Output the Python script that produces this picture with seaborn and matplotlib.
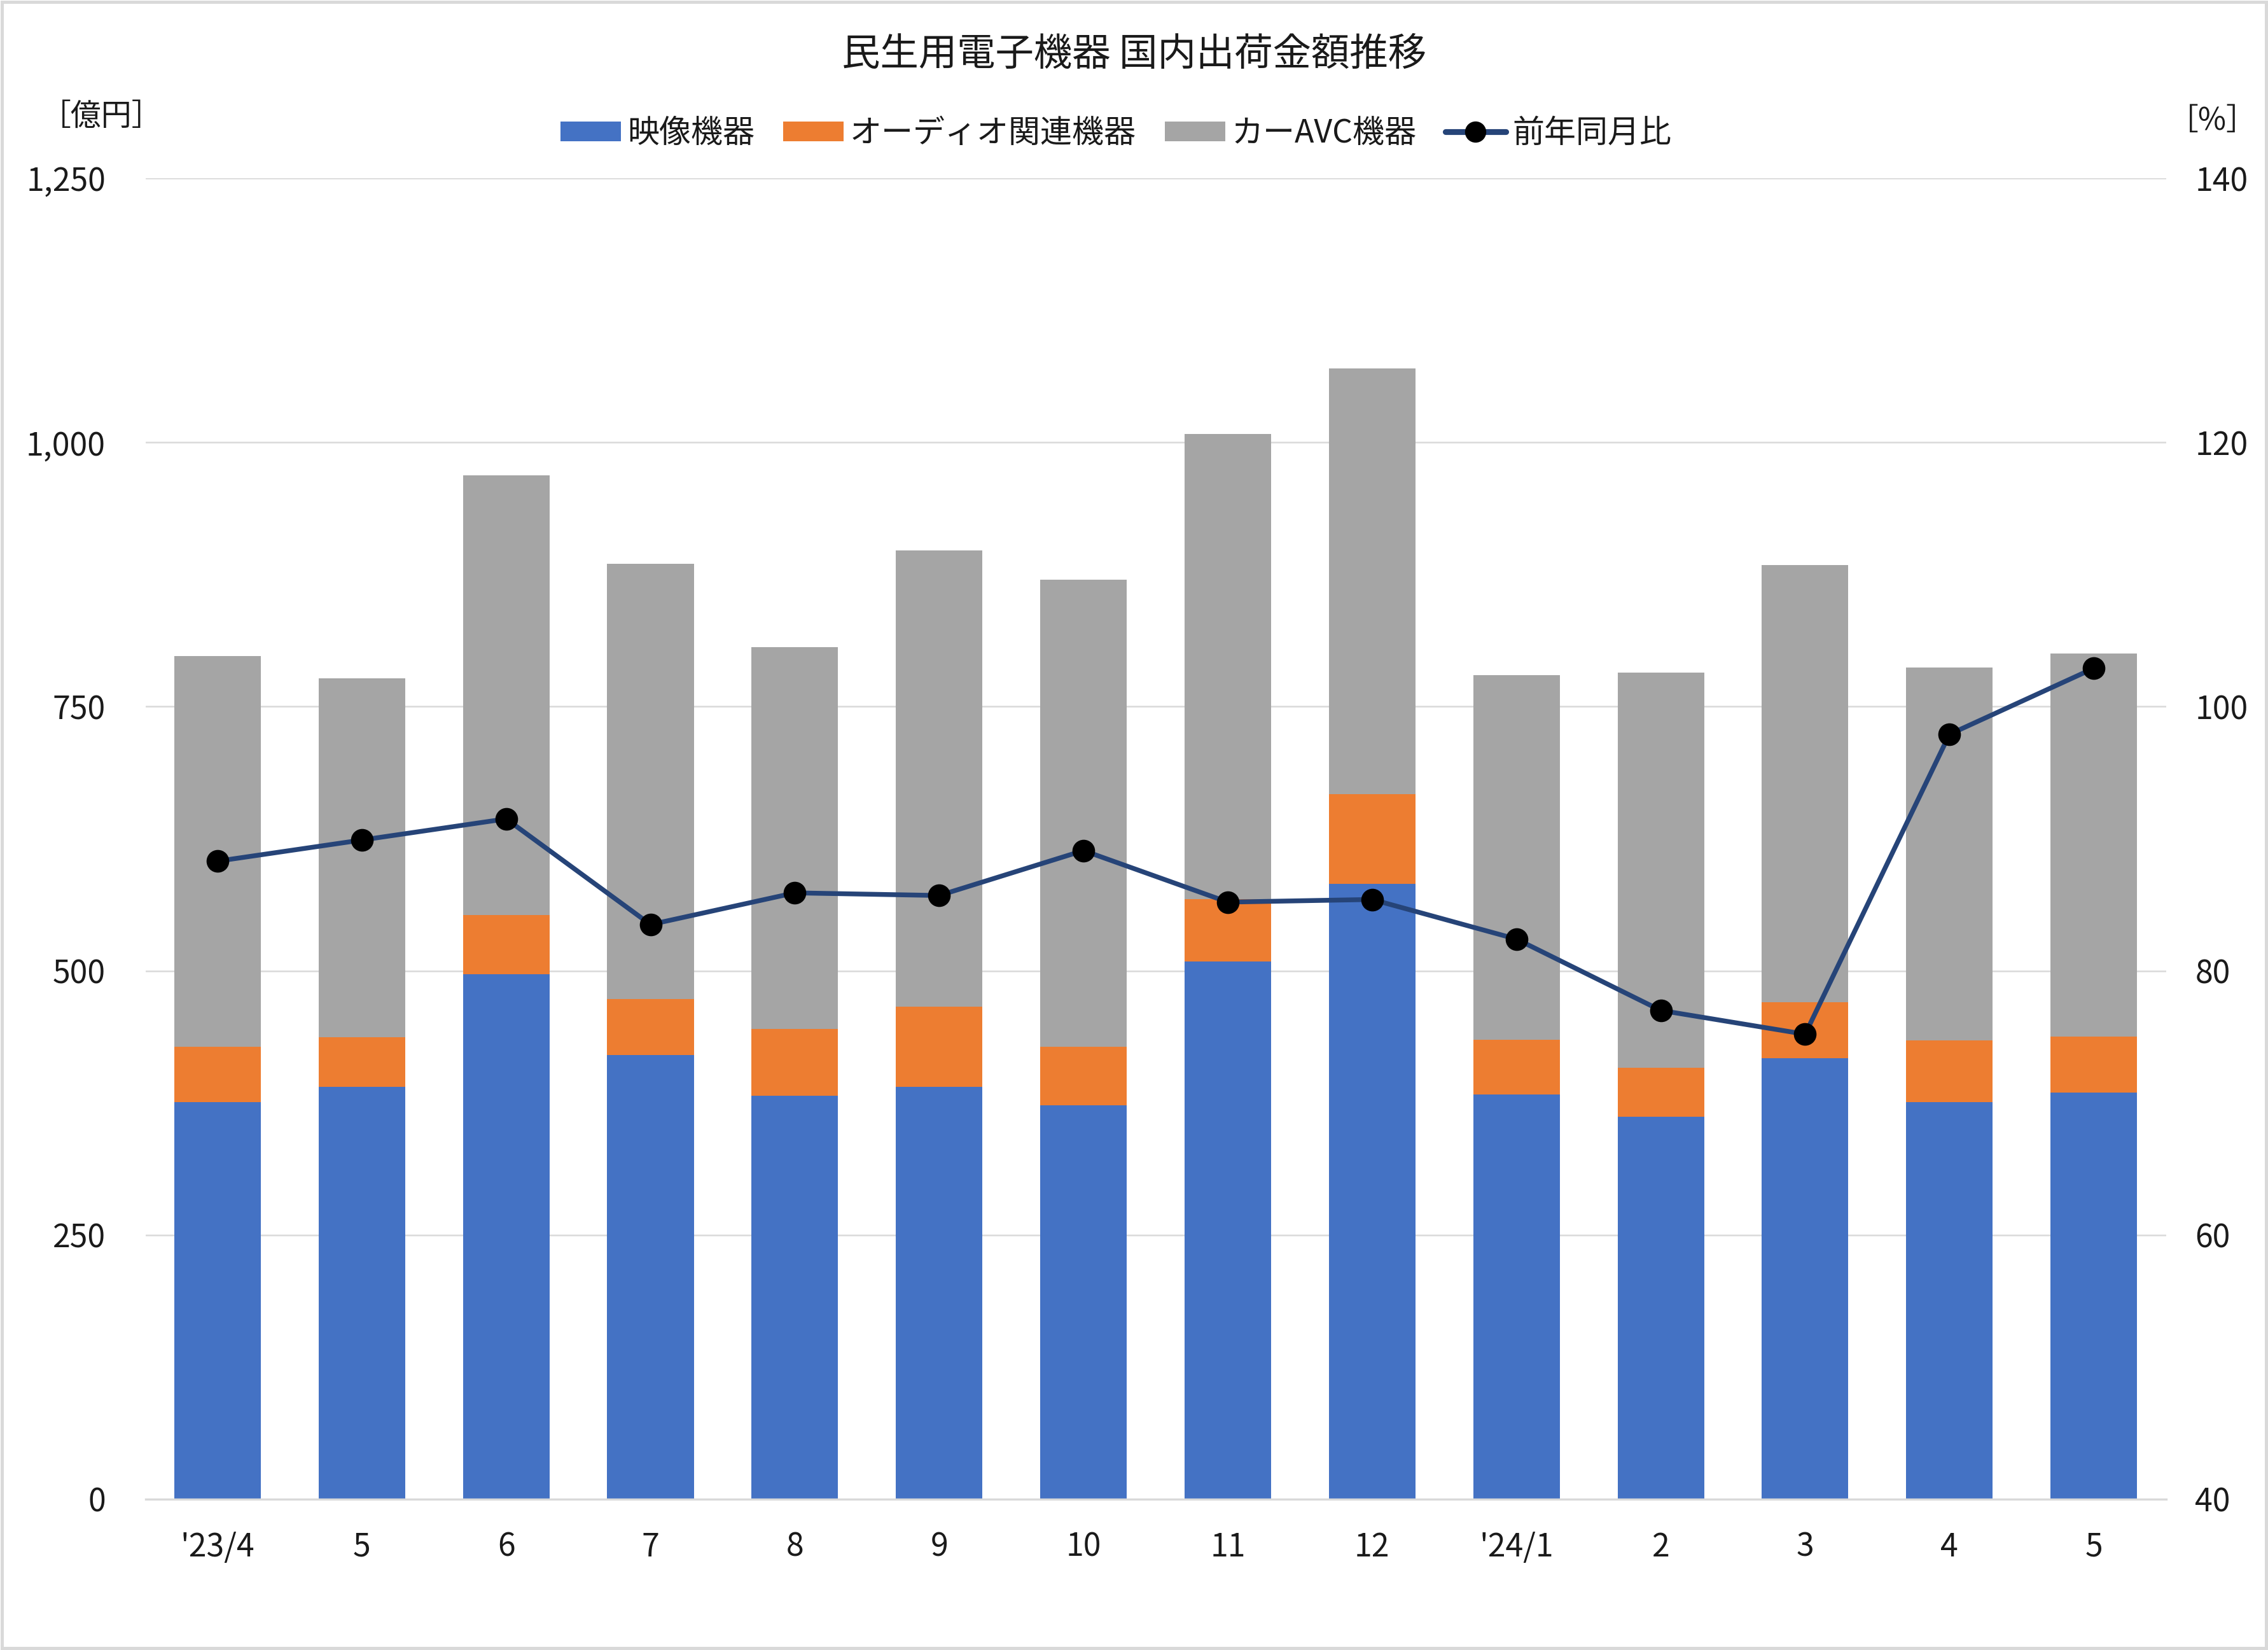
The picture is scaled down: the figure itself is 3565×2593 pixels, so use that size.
import matplotlib
matplotlib.use("Agg")
import matplotlib.pyplot as plt
import seaborn as sns
import numpy as np
import pandas as pd
from matplotlib.patches import Patch, Rectangle
from matplotlib.lines import Line2D
from matplotlib.ticker import FuncFormatter

# ---- data ----
months = ["'23/4", "5", "6", "7", "8", "9", "10", "11", "12", "'24/1", "2", "3", "4", "5"]
video = [376, 390, 497, 420, 382, 390, 373, 509, 582, 383, 362, 417, 376, 385]
audio_cum = [428, 437, 553, 473, 445, 466, 428, 568, 667, 435, 408, 470, 434, 438]
total = [798, 777, 969, 885, 806, 898, 870, 1008, 1070, 780, 782, 884, 787, 800]
yoy = [88.3, 89.9, 91.5, 83.5, 85.9, 85.7, 89.1, 85.2, 85.4, 82.4, 77.0, 75.2, 97.9, 102.9]

series_names = ["映像機器", "オーディオ関連機器", "カーAVC機器", "前年同月比"]
title = "民生用電子機器 国内出荷金額推移"

sns.set_theme(style="white")
plt.rcParams['font.family'] = ['Noto Sans CJK JP', 'DejaVu Sans']

C_BLUE = "#4472C4"
C_ORANGE = "#ED7D31"
C_GRAY = "#A5A5A5"
C_LINE = "#264478"
C_GRID = "#D9D9D9"

df = pd.DataFrame({"idx": np.arange(len(months)), "video": video,
                   "audio_cum": audio_cum, "total": total, "yoy": yoy})

fig = plt.figure(figsize=(3565 / 300, 2593 / 300), dpi=300)
ax = fig.add_axes([0.0641, 0.0914, 0.955 - 0.0641, 0.892 - 0.0914])

sns.barplot(data=df, x="idx", y="total", color=C_GRAY, width=0.6, ax=ax,
            saturation=1, zorder=2, linewidth=0)
sns.barplot(data=df, x="idx", y="audio_cum", color=C_ORANGE, width=0.6, ax=ax,
            saturation=1, zorder=2, linewidth=0)
sns.barplot(data=df, x="idx", y="video", color=C_BLUE, width=0.6, ax=ax,
            saturation=1, zorder=2, linewidth=0)

ax.set_xlim(-0.5, len(months) - 0.5)
ax.set_ylim(0, 1250)
ax.set_yticks(np.arange(0, 1251, 250))
ax.yaxis.set_major_formatter(FuncFormatter(lambda v, p: f"{int(v):,}"))
ax.set_xticks(np.arange(len(months)))
ax.set_xticklabels(months)
ax.set_xlabel("")
ax.set_ylabel("")
ax.grid(axis="y", color=C_GRID, linewidth=0.6, zorder=0)
ax.set_axisbelow(True)
for s in ["top", "left", "right"]:
    ax.spines[s].set_visible(False)
ax.spines["bottom"].set_color(C_GRID)
ax.spines["bottom"].set_linewidth(0.8)
ax.tick_params(axis="y", length=0, pad=15, labelsize=12, colors="#1a1a1a")
ax.tick_params(axis="x", length=0, pad=12, labelsize=12, colors="#1a1a1a")

ax2 = ax.twinx()
sns.lineplot(data=df, x="idx", y="yoy", ax=ax2, color=C_LINE, linewidth=1.8,
             marker="o", markersize=7.8, markerfacecolor="black",
             markeredgecolor="black", zorder=5)
ax2.set_ylim(40, 140)
ax2.set_yticks(np.arange(40, 141, 20))
ax2.set_ylabel("")
ax2.set_xlabel("")
for s in ["top", "left", "right", "bottom"]:
    ax2.spines[s].set_visible(False)
ax2.tick_params(axis="y", length=0, pad=11, labelsize=12, colors="#1a1a1a")
ax2.set_xlim(-0.5, len(months) - 0.5)

fig.text(0.5, 0.967, title, ha="center", va="center", fontsize=14.5, color="#1a1a1a")
fig.text(0.0449, 0.9295, "［億円］", ha="center", va="center", fontsize=11.5, color="#1a1a1a")
fig.text(0.9756, 0.9267, "［%］", ha="center", va="center", fontsize=11.5, color="#1a1a1a")

handles = [Patch(facecolor=C_BLUE, edgecolor="none"),
           Patch(facecolor=C_ORANGE, edgecolor="none"),
           Patch(facecolor=C_GRAY, edgecolor="none"),
           Line2D([0], [0], color=C_LINE, linewidth=2.2, marker="o",
                  markersize=7, markerfacecolor="black", markeredgecolor="black")]
fig.legend(handles, series_names, loc="center", bbox_to_anchor=(0.492, 0.919),
           ncol=4, frameon=False, fontsize=12, handlelength=1.9, handleheight=0.6,
           handletextpad=0.2, columnspacing=0.9, labelcolor="#1a1a1a")

fig.patches.append(Rectangle((0.0008, 0.0012), 0.9984, 0.9976, transform=fig.transFigure,
                             fill=False, edgecolor=C_GRID, linewidth=1.2))

fig.savefig("out.png", dpi=300)
